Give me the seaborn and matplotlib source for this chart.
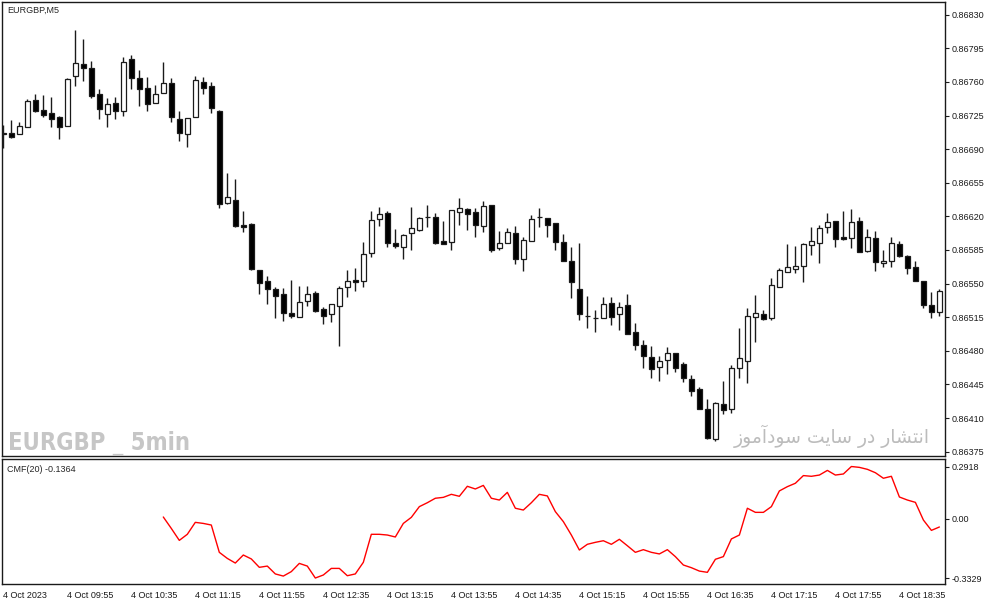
import numpy as np
import pandas as pd
import seaborn as sns
import matplotlib.pyplot as plt

sns.set_theme(style="white")
plt.rcParams["font.family"] = ["Liberation Sans", "DejaVu Sans"]
plt.rcParams["axes.linewidth"] = 1

# EURGBP M5, 4 Oct 2023, 09:15 .. 19:00
opens = [0.86707, 0.86707, 0.86706, 0.86713, 0.86741, 0.86731, 0.86728, 0.86723, 0.86714, 0.86766,
         0.86779, 0.86774, 0.86747, 0.86727, 0.86738, 0.86730, 0.86784, 0.86764, 0.86754, 0.86738,
         0.86748, 0.86759, 0.86721, 0.86706, 0.86723, 0.86760, 0.86756, 0.86730, 0.86634, 0.86637,
         0.86611, 0.86612, 0.86564, 0.86553, 0.86544, 0.86539, 0.86519, 0.86515, 0.86532, 0.86540,
         0.86524, 0.86518, 0.86527, 0.86546, 0.86554, 0.86553, 0.86582, 0.86617, 0.86623, 0.86592,
         0.86588, 0.86603, 0.86606, 0.86619, 0.86619, 0.86594, 0.86593, 0.86625, 0.86628, 0.86625,
         0.86610, 0.86632, 0.86587, 0.86592, 0.86603, 0.86576, 0.86594, 0.86619, 0.86618, 0.86613,
         0.86593, 0.86574, 0.86544, 0.86516, 0.86514, 0.86514, 0.86530, 0.86518, 0.86528, 0.86500,
         0.86486, 0.86474, 0.86463, 0.86470, 0.86478, 0.86466, 0.86451, 0.86440, 0.86419, 0.86388,
         0.86425, 0.86419, 0.86462, 0.86469, 0.86515, 0.86518, 0.86514, 0.86546, 0.86562, 0.86565,
         0.86568, 0.86590, 0.86592, 0.86609, 0.86615, 0.86599, 0.86597, 0.86615, 0.86584, 0.86597,
         0.86571, 0.86574, 0.86591, 0.86579, 0.86567, 0.86553, 0.86528, 0.86520]
highs = [0.86715, 0.86720, 0.86718, 0.86742, 0.86747, 0.86746, 0.86744, 0.86725, 0.86764, 0.86814,
         0.86805, 0.86782, 0.86753, 0.86743, 0.86744, 0.86786, 0.86788, 0.86772, 0.86765, 0.86757,
         0.86781, 0.86764, 0.86730, 0.86722, 0.86766, 0.86765, 0.86760, 0.86731, 0.86665, 0.86659,
         0.86626, 0.86613, 0.86564, 0.86558, 0.86546, 0.86545, 0.86554, 0.86548, 0.86548, 0.86542,
         0.86526, 0.86529, 0.86548, 0.86564, 0.86566, 0.86593, 0.86626, 0.86630, 0.86626, 0.86607,
         0.86602, 0.86630, 0.86619, 0.86632, 0.86623, 0.86615, 0.86627, 0.86639, 0.86629, 0.86629,
         0.86636, 0.86632, 0.86605, 0.86608, 0.86610, 0.86599, 0.86621, 0.86629, 0.86618, 0.86613,
         0.86602, 0.86588, 0.86592, 0.86537, 0.86522, 0.86536, 0.86536, 0.86531, 0.86539, 0.86509,
         0.86491, 0.86485, 0.86475, 0.86484, 0.86478, 0.86468, 0.86455, 0.86442, 0.86430, 0.86427,
         0.86449, 0.86465, 0.86504, 0.86525, 0.86538, 0.86522, 0.86556, 0.86566, 0.86591, 0.86589,
         0.86592, 0.86609, 0.86611, 0.86623, 0.86615, 0.86626, 0.86628, 0.86619, 0.86607, 0.86605,
         0.86585, 0.86599, 0.86594, 0.86580, 0.86574, 0.86553, 0.86541, 0.86544]
lows = [0.86691, 0.86702, 0.86706, 0.86713, 0.86729, 0.86723, 0.86713, 0.86701, 0.86714, 0.86756,
        0.86761, 0.86743, 0.86721, 0.86713, 0.86721, 0.86725, 0.86753, 0.86735, 0.86730, 0.86738,
        0.86748, 0.86718, 0.86698, 0.86692, 0.86723, 0.86747, 0.86728, 0.86629, 0.86633, 0.86609,
        0.86604, 0.86564, 0.86539, 0.86529, 0.86514, 0.86511, 0.86514, 0.86515, 0.86527, 0.86520,
        0.86508, 0.86510, 0.86485, 0.86536, 0.86542, 0.86546, 0.86578, 0.86610, 0.86588, 0.86587,
        0.86576, 0.86585, 0.86605, 0.86609, 0.86591, 0.86591, 0.86585, 0.86611, 0.86606, 0.86599,
        0.86604, 0.86583, 0.86585, 0.86592, 0.86570, 0.86563, 0.86594, 0.86609, 0.86599, 0.86585,
        0.86574, 0.86535, 0.86512, 0.86504, 0.86500, 0.86514, 0.86507, 0.86502, 0.86498, 0.86481,
        0.86462, 0.86452, 0.86449, 0.86456, 0.86458, 0.86448, 0.86433, 0.86419, 0.86388, 0.86386,
        0.86414, 0.86415, 0.86452, 0.86447, 0.86489, 0.86512, 0.86512, 0.86546, 0.86562, 0.86561,
        0.86552, 0.86580, 0.86571, 0.86603, 0.86588, 0.86595, 0.86587, 0.86583, 0.86583, 0.86563,
        0.86567, 0.86567, 0.86578, 0.86560, 0.86553, 0.86525, 0.86514, 0.86516]
closes = [0.86706, 0.86703, 0.86714, 0.86740, 0.86730, 0.86726, 0.86721, 0.86713, 0.86763, 0.86780,
          0.86774, 0.86745, 0.86732, 0.86737, 0.86730, 0.86781, 0.86764, 0.86753, 0.86737, 0.86747,
          0.86759, 0.86723, 0.86707, 0.86722, 0.86762, 0.86754, 0.86733, 0.86633, 0.86640, 0.86610,
          0.86609, 0.86565, 0.86551, 0.86544, 0.86537, 0.86519, 0.86516, 0.86531, 0.86539, 0.86521,
          0.86516, 0.86529, 0.86545, 0.86553, 0.86552, 0.86581, 0.86616, 0.86622, 0.86592, 0.86589,
          0.86601, 0.86608, 0.86618, 0.86619, 0.86592, 0.86591, 0.86627, 0.86629, 0.86622, 0.86611,
          0.86631, 0.86585, 0.86592, 0.86604, 0.86576, 0.86595, 0.86617, 0.86619, 0.86611, 0.86593,
          0.86574, 0.86552, 0.86518, 0.86516, 0.86514, 0.86529, 0.86515, 0.86526, 0.86498, 0.86486,
          0.86475, 0.86461, 0.86469, 0.86478, 0.86462, 0.86452, 0.86438, 0.86419, 0.86389, 0.86426,
          0.86418, 0.86462, 0.86473, 0.86516, 0.86519, 0.86513, 0.86549, 0.86564, 0.86567, 0.86568,
          0.86591, 0.86594, 0.86608, 0.86614, 0.86596, 0.86596, 0.86614, 0.86583, 0.86599, 0.86573,
          0.86574, 0.86592, 0.86579, 0.86566, 0.86553, 0.86528, 0.86520, 0.86542]

# Chaikin money flow (20), first value on bar 20
cmf_start = 20
cmf = [0.009, -0.055, -0.122, -0.088, -0.021, -0.027, -0.036, -0.189, -0.223, -0.249,
       -0.204, -0.226, -0.273, -0.266, -0.310, -0.322, -0.297, -0.251, -0.266, -0.3329,
       -0.316, -0.279, -0.279, -0.320, -0.310, -0.245, -0.088, -0.088, -0.092, -0.103,
       -0.027, 0.007, 0.067, 0.089, 0.114, 0.119, 0.136, 0.125, 0.181, 0.166,
       0.186, 0.114, 0.104, 0.147, 0.058, 0.048, 0.089, 0.136, 0.127, 0.039,
       -0.017, -0.092, -0.176, -0.144, -0.133, -0.124, -0.144, -0.116, -0.152, -0.189,
       -0.174, -0.189, -0.198, -0.174, -0.213, -0.260, -0.275, -0.294, -0.301, -0.228,
       -0.213, -0.114, -0.092, 0.058, 0.035, 0.035, 0.067, 0.155, 0.179, 0.198,
       0.241, 0.237, 0.244, 0.270, 0.244, 0.250, 0.2918, 0.287, 0.276, 0.257,
       0.226, 0.237, 0.121, 0.104, 0.091, -0.008, -0.066, -0.047]

time_labels = ["4 Oct 2023", "4 Oct 09:55", "4 Oct 10:35", "4 Oct 11:15", "4 Oct 11:55",
               "4 Oct 12:35", "4 Oct 13:15", "4 Oct 13:55", "4 Oct 14:35", "4 Oct 15:15",
               "4 Oct 15:55", "4 Oct 16:35", "4 Oct 17:15", "4 Oct 17:55", "4 Oct 18:35"]
label_step = 8

price_ticks = [0.86375, 0.86410, 0.86445, 0.86480, 0.86515, 0.86550, 0.86585,
               0.86620, 0.86655, 0.86690, 0.86725, 0.86760, 0.86795, 0.86830]
cmf_ticks = [-0.3329, 0.0, 0.2918]
cmf_tick_labels = ["-0.3329", "0.00", "0.2918"]

df = pd.DataFrame({"open": opens, "high": highs, "low": lows, "close": closes})
df["bar"] = np.arange(len(df))
df["bull"] = df["close"] > df["open"]
cmf_df = pd.DataFrame({"bar": np.arange(cmf_start, cmf_start + len(cmf)), "cmf": cmf})

W, H = 991, 605
fig = plt.figure(figsize=(W / 100, H / 100), dpi=100, facecolor="w")
ax = fig.add_axes([2 / W, 1 - 456 / H, 943 / W, 454 / H])
ax2 = fig.add_axes([2 / W, 1 - 584 / H, 943 / W, 125 / H], sharex=ax)

# watermarks (behind the candles)
fig.text(8 / W, 1 - 450 / H, "EURGBP _ 5min", fontsize=17, fontweight="bold", color="#c6c6c6",
         family=["DejaVu Sans"], fontstretch="condensed", va="baseline", ha="left", zorder=0)
# "انتشار در سایت سودآموز" written in shaped (presentation) forms, visual order
fa_text = "\uFEAF\uFEEE\uFEE3\uFE81\uFEA9\uFEEE\uFEB3 \uFE96\uFBFE\uFE8E\uFEB3 \uFEAD\uFEA9 \uFEAD\uFE8E\uFEB8\uFE98\uFEE7\uFE8D"
fig.text(930 / W, 1 - 443 / H, fa_text, fontsize=13.5, color="#bcbcbc",
         family=["DejaVu Sans"], va="baseline", ha="right", zorder=0)
ax.patch.set_alpha(0)

# candles
ax.vlines(df["bar"], df["low"], df["high"], color="k", lw=1, zorder=1)
body_lo = df[["open", "close"]].min(axis=1)
body_h = (df["close"] - df["open"]).abs()
ax.bar(df["bar"], body_h, bottom=body_lo, width=0.6,
       color=np.where(df["bull"], "white", "black"), edgecolor="k", linewidth=0.9, zorder=2)

ax.set_xlim(-0.16, 117.7)
ax.set_ylim(0.863705, 0.868432)
ax.yaxis.tick_right()
ax.set_yticks(price_ticks)
ax.set_yticklabels([f"{t:.5f}" for t in price_ticks])
ax.tick_params(axis="y", direction="out", length=3, width=0.8, pad=2, labelsize=6.5, colors="k")
ax.tick_params(axis="x", bottom=False, labelbottom=False)
for s in ax.spines.values():
    s.set_color("k")

# CMF panel
sns.lineplot(data=cmf_df, x="bar", y="cmf", color="red", lw=1, ax=ax2)
ax2.set_ylim(-0.3664, 0.3339)
ax2.yaxis.tick_right()
ax2.set_yticks(cmf_ticks)
ax2.set_yticklabels(cmf_tick_labels)
ax2.set_xticks(np.arange(len(time_labels)) * label_step)
ax2.set_xticklabels(time_labels, ha="left")
ax2.tick_params(axis="both", direction="out", length=3, width=0.8, pad=2, labelsize=6.5, colors="k")
ax2.set_xlabel("")
ax2.set_ylabel("")
for s in ax2.spines.values():
    s.set_color("k")

fig.text(7 / W, 1 - 10 / H, "EURGBP,M5", fontsize=6.5, va="center", ha="left")
fig.text(7 / W, 1 - 469 / H, "CMF(20) -0.1364", fontsize=6.5, va="center", ha="left")

fig.savefig("out.png", dpi=100)
